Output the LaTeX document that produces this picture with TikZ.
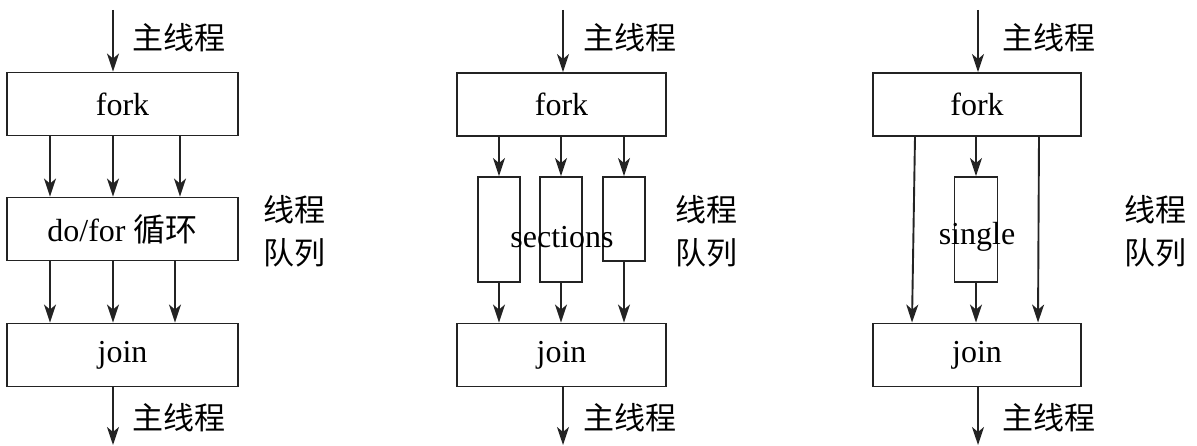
\documentclass[tikz,border=0pt]{standalone}
\usepackage{fontspec}
\setmainfont{Liberation Serif}
\newfontfamily\cjk{Noto Sans CJK SC}
\usetikzlibrary{arrows.meta}

\definecolor{LineGrey}{RGB}{35,35,35}

\begin{document}
\begin{tikzpicture}[x=1pt, y=-1pt,
    box/.style={draw=LineGrey, line width=1.9pt, minimum height=63pt, inner sep=0pt,
                font=\fontsize{32}{36}\selectfont},
    thin box/.style={draw=LineGrey, line width=1.9pt, inner sep=0pt},
    lbl/.style={font=\fontsize{31}{43}\selectfont\cjk, inner sep=0pt},
    arr/.style={-{Stealth[length=18pt, width=12pt, inset=5pt]}, line width=1.9pt, LineGrey}]
    \useasboundingbox (0,0) rectangle (1197,446);

    % Panel 1: do/for
    \coordinate (in1) at (113,10);
    \coordinate (out1) at (113,445);
    \node[box, minimum width=231pt] (fork1) at (122.5,104) {fork};
    \node[box, minimum width=231pt] (loop1) at (122.5,229) {do/for {\cjk 循环}};
    \node[box, minimum width=231pt] (join1) at (122.5,355) {join};
    \node[lbl, anchor=west] (main1a) at (132,38) {主线程};
    \node[lbl, anchor=west] (main1b) at (132,418) {主线程};
    \node[lbl, align=left] (queue1) at (294,231) {线程\\队列};

    \draw[arr] (in1) -- (fork1.north -| in1);
    \draw[arr] ([xshift=-72.5]fork1.south) -- ([xshift=-72.5]loop1.north);
    \draw[arr] ([xshift=-9.5]fork1.south) -- ([xshift=-9.5]loop1.north);
    \draw[arr] ([xshift=57.5]fork1.south) -- ([xshift=57.5]loop1.north);
    \draw[arr] ([xshift=-72.5]loop1.south) -- ([xshift=-72.5]join1.north);
    \draw[arr] ([xshift=-9.5]loop1.south) -- ([xshift=-9.5]join1.north);
    \draw[arr] ([xshift=52.5]loop1.south) -- ([xshift=52.5]join1.north);
    \draw[arr] (join1.south -| out1) -- (out1);

    % Panel 2: sections
    \coordinate (in2) at (563,10);
    \coordinate (out2) at (563,445);
    \node[box, minimum width=209pt] (fork2) at (561.5,104.5) {fork};
    \node[box, minimum width=209pt] (join2) at (561.5,355) {join};
    \node[thin box, minimum width=42pt, minimum height=105pt] (sec1) at (499,229.5) {};
    \node[thin box, minimum width=42pt, minimum height=105pt] (sec2) at (561,229.5) {};
    \node[thin box, minimum width=42pt, minimum height=84pt] (sec3) at (624,219) {};
    \node[font=\fontsize{32}{36}\selectfont, inner sep=0pt] (secs) at (562,237) {sections};
    \node[lbl, anchor=west] (main2a) at (583,38) {主线程};
    \node[lbl, anchor=west] (main2b) at (583,418) {主线程};
    \node[lbl, align=left] (queue2) at (706,231) {线程\\队列};

    \draw[arr] (in2) -- (fork2.north -| in2);
    \foreach \s in {sec1,sec2,sec3} {
        \draw[arr] (fork2.south -| \s) -- (\s.north);
        \draw[arr] (\s.south) -- (join2.north -| \s);
    }
    \draw[arr] (join2.south -| out2) -- (out2);

    % Panel 3: single
    \coordinate (in3) at (978,10);
    \coordinate (out3) at (978,445);
    \node[box, minimum width=208pt] (fork3) at (977,104.5) {fork};
    \node[box, minimum width=208pt] (join3) at (977,355) {join};
    \node[thin box, minimum width=43pt, minimum height=105pt] (sgl) at (976,229.5) {};
    \node[font=\fontsize{32}{36}\selectfont, inner sep=0pt] (sgltxt) at (977,237) {single};
    \node[lbl, anchor=west] (main3a) at (1002,38) {主线程};
    \node[lbl, anchor=west] (main3b) at (1002,418) {主线程};
    \node[lbl, align=left] (queue3) at (1155,231) {线程\\队列};

    \draw[arr] (in3) -- (fork3.north -| in3);
    \draw[arr] (fork3.south -| sgl) -- (sgl.north);
    \draw[arr] (sgl.south) -- (join3.north -| sgl);
    \draw[arr] ([xshift=-62]fork3.south) -- ([xshift=-65]join3.north);
    \draw[arr] ([xshift=62]fork3.south) -- ([xshift=61]join3.north);
    \draw[arr] (join3.south -| out3) -- (out3);
\end{tikzpicture}
\end{document}
